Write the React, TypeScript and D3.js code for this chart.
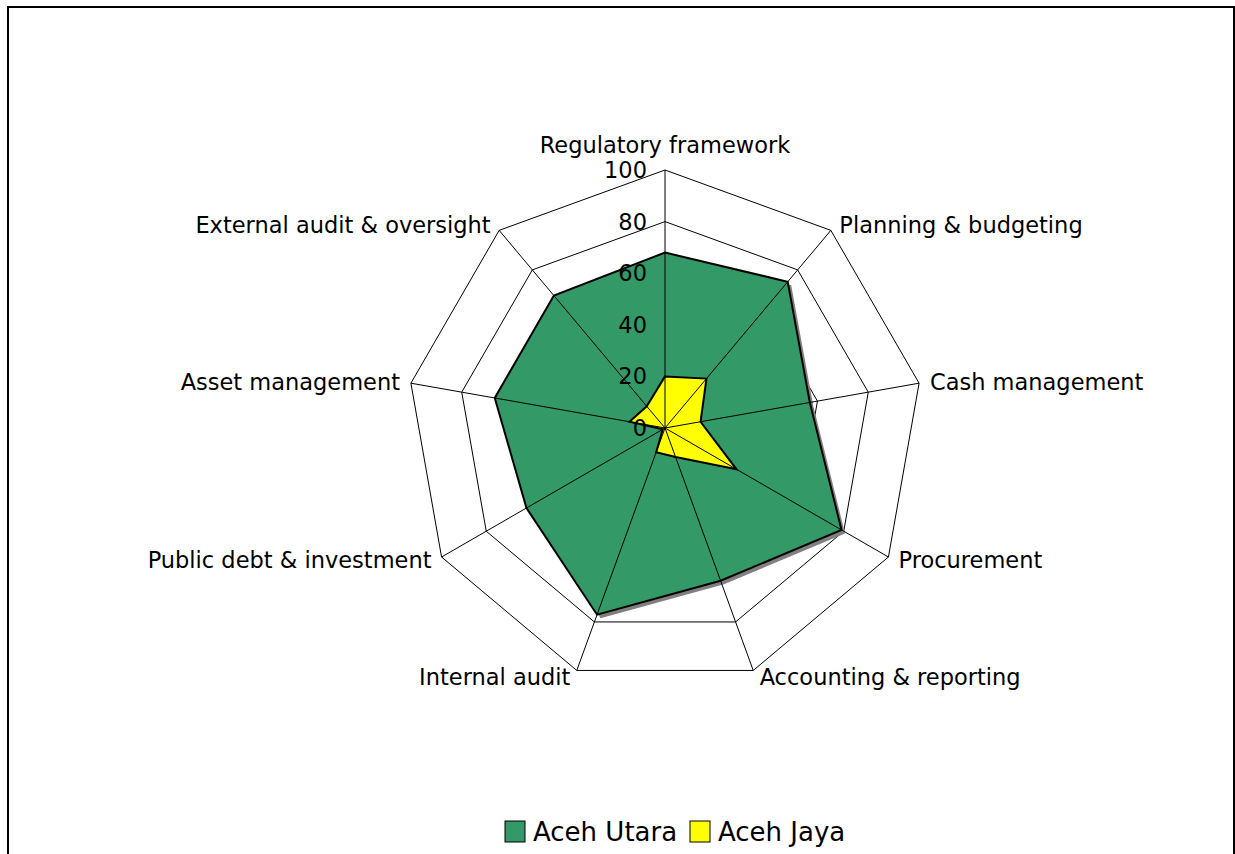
import React, { useEffect, useRef } from 'react'
import * as d3 from 'd3'

const categories = [
  'Regulatory framework',
  'Planning & budgeting',
  'Cash management',
  'Procurement',
  'Accounting & reporting',
  'Internal audit',
  'Public debt & investment',
  'Asset management',
  'External audit & oversight',
]
const acehUtara = [68, 74, 57, 79, 63, 77, 62, 67, 67]
const acehJaya = [20, 25, 14, 32, 12, 10, 1, 14, 11]
const ticks = [0, 20, 40, 60, 80, 100]
const seriesNames = ['Aceh Utara', 'Aceh Jaya']
const seriesColors = ['#339966', '#ffff00']

const W = 1235
const H = 854
const cx = 665
const cy = 428
const font = 'DejaVu Sans, Verdana, sans-serif'

export default function App() {
  const ref = useRef<SVGSVGElement>(null)

  useEffect(() => {
    const svg = d3.select(ref.current)
    svg.selectAll('*').remove()

    const r = d3.scaleLinear().domain([0, 100]).range([0, 258])
    const angle = (i: number) => (i * 2 * Math.PI) / categories.length
    const pt = (i: number, v: number) => [r(v) * Math.sin(angle(i)), -r(v) * Math.cos(angle(i))]

    svg.append('rect')
      .attr('x', 8).attr('y', 7)
      .attr('width', 1226).attr('height', 900)
      .attr('fill', 'white')
      .attr('stroke', 'black')
      .attr('stroke-width', 2)

    const g = svg.append('g').attr('transform', `translate(${cx},${cy})`)

    const radial = d3.lineRadial<number>()
      .angle((_, i) => angle(i))
      .radius(d => r(d))
      .curve(d3.curveLinearClosed)

    // rings
    g.selectAll('path.ring')
      .data(ticks.filter(t => t > 0))
      .enter()
      .append('path')
      .attr('class', 'ring')
      .attr('d', t => radial(categories.map(() => t)))
      .attr('fill', 'none')
      .attr('stroke', 'black')
      .attr('stroke-width', 1)

    // shadow for first series
    g.append('path')
      .attr('d', radial(acehUtara))
      .attr('transform', 'translate(3.5,3.5)')
      .attr('fill', '#808080')

    const series = [acehUtara, acehJaya]
    g.selectAll('path.series')
      .data(series)
      .enter()
      .append('path')
      .attr('class', 'series')
      .attr('d', d => radial(d))
      .attr('fill', (_, i) => seriesColors[i])
      .attr('stroke', 'black')
      .attr('stroke-width', 2)
      .attr('stroke-linejoin', 'miter')

    // spokes
    g.selectAll('line.spoke')
      .data(categories)
      .enter()
      .append('line')
      .attr('x1', 0).attr('y1', 0)
      .attr('x2', (_, i) => pt(i, 100)[0])
      .attr('y2', (_, i) => pt(i, 100)[1])
      .attr('stroke', 'black')
      .attr('stroke-width', 1)

    // tick labels
    g.selectAll('text.tick')
      .data(ticks)
      .enter()
      .append('text')
      .attr('x', -18)
      .attr('y', d => -r(d))
      .attr('text-anchor', 'end')
      .attr('dominant-baseline', 'central')
      .style('font-family', font)
      .style('font-size', '22.5px')
      .attr('fill', 'black')
      .text(d => d)

    // category labels
    g.selectAll('text.cat')
      .data(categories)
      .enter()
      .append('text')
      .attr('x', (_, i) => {
        const s = Math.sin(angle(i))
        const [x] = pt(i, 100)
        if (Math.abs(s) < 0.1) return x
        return x + Math.sign(s) * (4 + 7 * Math.abs(s))
      })
      .attr('y', (_, i) => {
        const [, y] = pt(i, 100)
        if (i === 0) return y - 25
        return y - Math.cos(angle(i)) * 6.5
      })
      .attr('text-anchor', (_, i) => {
        const s = Math.sin(angle(i))
        return Math.abs(s) < 0.1 ? 'middle' : s > 0 ? 'start' : 'end'
      })
      .attr('dominant-baseline', 'central')
      .style('font-family', font)
      .style('font-size', '22.5px')
      .attr('fill', 'black')
      .text(d => d)

    // legend
    const legend = svg.append('g').attr('transform', 'translate(505,821)')
    const offsets = [0, 185]
    seriesNames.forEach((name, i) => {
      const lg = legend.append('g').attr('transform', `translate(${offsets[i]},0)`)
      lg.append('rect')
        .attr('width', 20).attr('height', 21)
        .attr('fill', seriesColors[i])
        .attr('stroke', 'black')
        .attr('stroke-width', 1)
      lg.append('text')
        .attr('x', 28).attr('y', 11)
        .attr('dominant-baseline', 'central')
        .style('font-family', font)
        .style('font-size', '26px')
        .attr('fill', 'black')
        .text(name)
    })
  }, [])

  return (
    <svg ref={ref} width={W} height={H}
      style={{ position: 'absolute', left: 0, top: 0, background: 'white' }} />
  )
}
